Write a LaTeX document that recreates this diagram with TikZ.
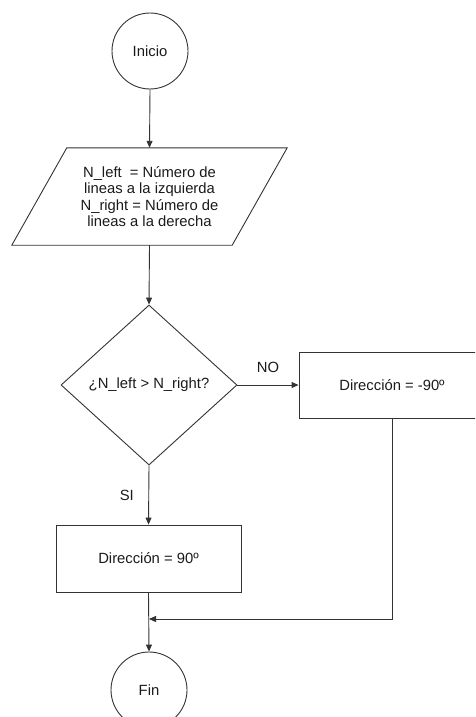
\documentclass[tikz,border=0pt]{standalone}
\usepackage{fontspec}
\setmainfont{Liberation Sans}
\usetikzlibrary{shapes.geometric,arrows.meta,calc}
\definecolor{lc}{HTML}{333333}
\definecolor{tc}{HTML}{1A1A1A}
\begin{document}
\begin{tikzpicture}[x=1pt,y=-1pt,
  font=\fontsize{14.8pt}{16.4pt}\selectfont,
  every node/.style={text=tc},
  line/.style={draw=lc, line width=0.9pt},
  arr/.style={line, -{Triangle[length=7pt,width=6pt]}},
  term/.style={line, circle, minimum size=76pt, inner sep=0pt},
  iobox/.style={minimum width=220pt, minimum height=97pt, inner sep=0pt, align=center},
  decbox/.style={line, diamond, minimum width=176pt, minimum height=160pt, inner sep=1pt},
  procbox/.style={line, rectangle, minimum width=185pt, minimum height=67pt, inner sep=0pt},
  lbl/.style={inner sep=0pt}]
\useasboundingbox (0,0) rectangle (475,717);
\clip (0,0) rectangle (475,717);

\node[term] (ini) at (150,51) {Inicio};
\node[iobox] (io) at (149.5,196.5) {N\_left~ = Número de\\lineas a la izquierda\\N\_right = Número de\\lineas a la derecha};
\draw[line] ($(io.south west)+(-27.5,0)$) -- ($(io.north west)+(27.5,0)$)
  -- ($(io.north east)+(27.5,0)$) -- ($(io.south east)+(-27.5,0)$) -- cycle;
\node[decbox] (dec) at (149,385) {¿N\_left > N\_right?};
\node[procbox, minimum width=186pt, minimum height=66pt] (no) at (392,385) {Dirección = -90º};
\node[procbox] (si) at (148.5,558.5) {Dirección = 90º};
\node[term] (fin) at (149,690) {Fin};
\coordinate (j) at (149,619);

\draw[arr] (ini.south) -- (io.north);
\draw[arr] (io.south) -- (dec.north);
\draw[arr] (dec.east) -- (no.west) node[lbl, midway, yshift=18pt] {NO};
\draw[arr] (dec.south) -- (si.north) node[lbl, midway, xshift=-22pt] {SI};
\draw[arr] (si.south) -- (fin.north);
\draw[arr] (no.south) |- (j);
\end{tikzpicture}
\end{document}
